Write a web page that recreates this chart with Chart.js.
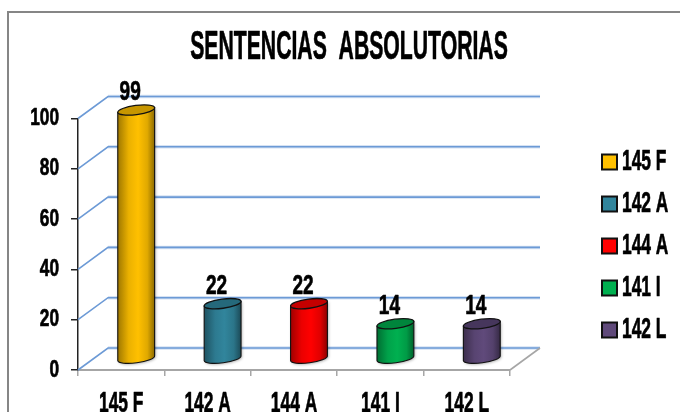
<!DOCTYPE html>
<html><head><meta charset="utf-8">
<script src="https://cdn.jsdelivr.net/npm/chart.js@4"></script>
<style>html,body{margin:0;padding:0;background:#fff;overflow:hidden}canvas{display:block}</style>
</head><body><canvas id="c" width="680" height="412"></canvas>
<script>
const categories = ['145 F','142 A','144 A','141 I','142 L'];
const values = [99,22,22,14,14];
const colors = ['#FFC000','#31859C','#FF0000','#00B050','#604A7B'];
const topColors = ['#C79600','#25697B','#C40000','#00853C','#46365C'];
const yTicks = [0,20,40,60,80,100];
const titleText = 'SENTENCIAS  ABSOLUTORIAS';
const FONT = '"Liberation Sans Narrow","Liberation Sans",sans-serif';
const DX = 30, DY = -22;
const narrowBySize = {40:0.53, 30:0.58, 28:0.68, 24:0.72};

const canvas = document.getElementById('c');
const ctx0 = canvas.getContext('2d');
const rawFill = ctx0.fillText.bind(ctx0);
const rawStroke = ctx0.strokeText.bind(ctx0);
ctx0.fillText = function(t,x,y){
  const m=/(\d+(?:\.\d+)?)px/.exec(ctx0.font), size=m?Math.round(+m[1]):0, sx=narrowBySize[size]||0.8;
  ctx0.save(); ctx0.translate(ctx0.textAlign==='left'?x-3:x,y); ctx0.scale(sx,1);
  rawFill(t,0,0);
  ctx0.strokeStyle=ctx0.fillStyle; ctx0.lineWidth=0.7; ctx0.lineJoin='round';
  rawStroke(t,0,0);
  ctx0.restore();
};

function shade(hex,f){
  const n=parseInt(hex.slice(1),16);
  return 'rgb('+[(n>>16)&255,(n>>8)&255,n&255].map(v=>Math.round(v*f)).join(',')+')';
}

const scene = {
  id:'scene',
  beforeDraw(chart){
    const c=chart.ctx;
    c.save();
    c.fillStyle='#fff'; c.fillRect(0,0,680,412);
    c.strokeStyle='#868686'; c.lineWidth=2;
    c.beginPath(); c.moveTo(8,412); c.lineTo(8,12); c.lineTo(680,12); c.stroke();
    c.restore();
  },
  beforeLayout(chart){
    const l=chart.legend;
    if(!l._patched){ const f=l.fit; l.fit=function(){ f.call(this); this.width=170; }; l._patched=true; }
  },
  afterLayout(chart){
    const t=chart.titleBlock; t.left=190; t.right=508;
    const l=chart.legend; l.left=597; l.top=135;
  },
  beforeDatasetsDraw(chart){
    const c=chart.ctx, y=chart.scales.y, a=chart.chartArea;
    c.save();
    c.lineCap='butt';
    c.strokeStyle='#D5E2F3'; c.lineWidth=3.5;
    yTicks.forEach(v=>{ const p=y.getPixelForValue(v)+DY;
      c.beginPath(); c.moveTo(a.left+DX,p); c.lineTo(a.right+DX,p); c.stroke(); });
    c.strokeStyle='#6C9AD6'; c.lineWidth=1.6;
    yTicks.forEach(v=>{ const p=y.getPixelForValue(v);
      c.beginPath(); c.moveTo(a.left,p); c.lineTo(a.left+DX,p+DY); c.lineTo(a.right+DX,p+DY); c.stroke(); });
    c.strokeStyle='#A6A6A6'; c.lineWidth=1.6;
    const b=y.getPixelForValue(0);
    c.beginPath(); c.moveTo(a.right,b); c.lineTo(a.right+DX,b+DY); c.stroke();
    c.restore();
  },
  beforeDatasetDraw(chart,args){
    const c=chart.ctx, meta=args.meta, rot=-0.13, ry=4.6;
    meta.data.forEach((el,i)=>{
      const cx=el.x+15, top=el.y-11, base=el.base-11, rx=el.width/2;
      const ex=rx*Math.cos(rot), ey=rx*Math.sin(rot);
      const g=c.createLinearGradient(cx-rx,0,cx+rx,0);
      g.addColorStop(0,shade(colors[i],0.62));
      g.addColorStop(0.3,shade(colors[i],0.92));
      g.addColorStop(0.55,colors[i]);
      g.addColorStop(0.8,shade(colors[i],0.88));
      g.addColorStop(1,shade(colors[i],0.55));
      c.save();
      c.beginPath();
      c.moveTo(cx-ex,top-ey);
      c.lineTo(cx-ex,base-ey);
      c.ellipse(cx,base,rx,ry,rot,Math.PI,0,true);
      c.lineTo(cx+ex,top+ey);
      c.closePath();
      c.shadowColor='rgba(0,0,0,0.35)'; c.shadowBlur=3; c.shadowOffsetX=1; c.shadowOffsetY=1;
      c.fillStyle=g; c.fill();
      c.shadowColor='transparent';
      c.strokeStyle='#111'; c.lineWidth=1.1; c.stroke();
      c.beginPath();
      c.ellipse(cx,top,rx,ry,rot,0,Math.PI*2);
      c.fillStyle=topColors[i]; c.fill();
      c.strokeStyle='#111'; c.lineWidth=1.3; c.stroke();
      c.restore();
      c.save();
      c.fillStyle='#000'; c.font='bold 28px '+FONT;
      c.textAlign='center'; c.textBaseline='alphabetic';
      c.fillText(String(values[i]),el.x+9,el.y-21);
      c.restore();
    });
    return false;
  }
};

new Chart(canvas,{
  type:'bar',
  data:{labels:categories,datasets:[{data:values,backgroundColor:colors,barPercentage:0.43,categoryPercentage:1}]},
  plugins:[scene],
  options:{
    responsive:false,animation:false,
    layout:{padding:0},
    plugins:{
      tooltip:{enabled:false},
      title:{display:true,text:titleText,color:'#000',font:{family:FONT,size:40,weight:'bold'},padding:{top:24,bottom:46.5}},
      legend:{display:true,position:'right',align:'start',
        labels:{usePointStyle:true,pointStyle:'rect',boxWidth:1,boxHeight:15,padding:12,color:'#000',
          font:{family:FONT,size:30,weight:'bold'},
          generateLabels(){return categories.map((t,i)=>({text:t,fillStyle:colors[i],strokeStyle:'#111',lineWidth:2,pointStyle:'rect',index:i}));}}}
    },
    scales:{
      x:{afterFit(s){s.height=42;},
        border:{color:'#A6A6A6',width:2},
        grid:{drawOnChartArea:false,color:'#A6A6A6',tickLength:6,lineWidth:1.5},
        ticks:{color:'#000',padding:10,maxRotation:0,font:{family:FONT,size:30,weight:'bold'}}},
      y:{min:0,max:100,afterFit(s){s.width=78;},
        border:{color:'#222',width:1.5},
        grid:{drawOnChartArea:false,color:'#222',tickLength:7,lineWidth:1.5},
        ticks:{color:'#000',stepSize:20,padding:12,font:{family:FONT,size:24,weight:'bold'}}}
    }
  }
});
</script></body></html>
